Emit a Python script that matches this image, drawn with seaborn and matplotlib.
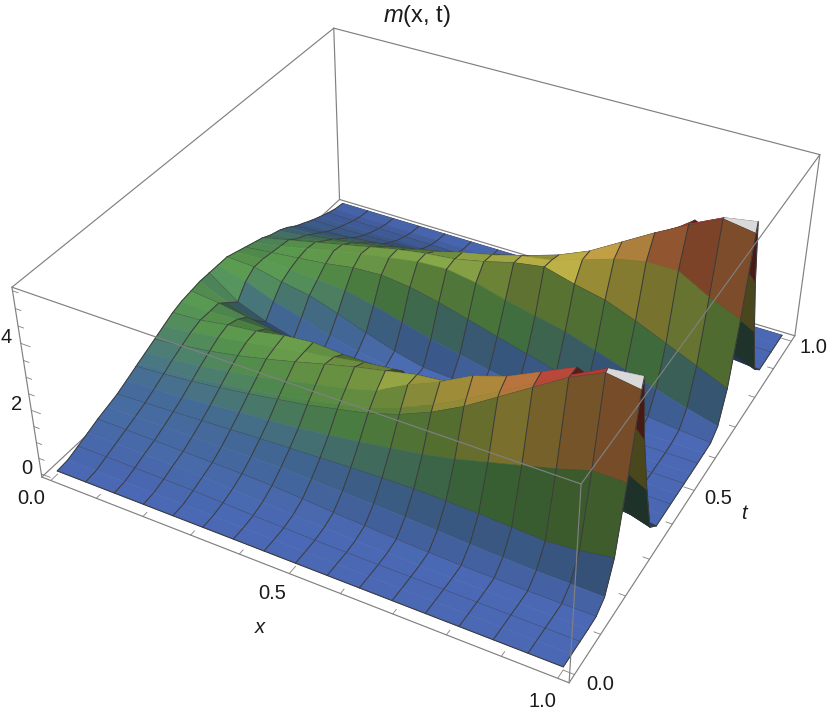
import numpy as np
import seaborn as sns
import matplotlib
matplotlib.use("Agg")
import matplotlib.pyplot as plt
from mpl_toolkits.mplot3d import proj3d

sns.set_theme(style="white")
plt.rcParams['font.family'] = ['Liberation Sans', 'DejaVu Sans']
plt.rcParams['mathtext.fontset'] = 'custom'
plt.rcParams['mathtext.it'] = 'Liberation Sans:italic'
plt.rcParams['mathtext.rm'] = 'Liberation Sans'

# --- values ---

x_nodes = [0, .0625, .125, .1875, .25, .3125, .375, .4375, .5, .5625, .625, .6875, .75, .8125, .875, .9375, 1]
t_nodes = [0, .03125, .0625, .09375, .125, .15625, .1875, .21875, .25, .2575, .28125, .3125, .34375, .375, .40625,
           .4375, .46875, .5, .53125, .5625, .59375, .625, .65625, .6875, .71875, .75, .755, .78125, .8125, .84375,
           .875, .90625, .9375, .96875, 1]
mesh_rows = [0, .0625, .125, .1875, .25, .3125, .375, .4375, .5, .5625, .625, .6875, .75, .8125, .875, .9375, 1]
x_ticks = [0, .1, .2, .3, .4, .5, .6, .7, .8, .9, 1]
t_ticks = [0, .1, .2, .3, .4, .5, .6, .7, .8, .9, 1]
z_ticks = [0, .5, 1, 1.5, 2, 2.5, 3, 3.5, 4, 4.5, 5, 5.5]
x_labels = {0: '0.0', .5: '0.5', 1: '1.0'}
t_labels = {0: '0.0', .5: '0.5', 1: '1.0'}
z_labels = {0: '0', 2: '2', 4: '4'}

# one row per t node, one column per x node
m_rows = [
    [0, 0, 0, 0, 0, 0, 0, 0, 0, 0, 0, 0, 0, 0, 0, 0, 0],
    [.03, .03, .03, .03, .02, .02, .01, .01, 0, 0, 0, 0, 0, 0, 0, 0, 0],
    [.15, .15, .14, .13, .12, .09, .05, .03, .01, 0, 0, 0, 0, 0, 0, 0, 0],
    [.27, .27, .27, .26, .24, .2, .15, .11, .07, .04, .02, .01, 0, 0, 0, 0, 0],
    [.4, .39, .38, .37, .36, .35, .33, .27, .2, .15, .1, .06, .03, .02, .01, .01, .02],
    [.5, .51, .52, .54, .55, .57, .58, .56, .52, .49, .45, .4, .35, .31, .28, .27, .25],
    [.6, .64, .68, .73, .78, .83, .87, .91, .95, .98, 1.0, .98, .95, .9, .85, .93, 1.1],
    [.75, .8, .85, .94, 1.03, 1.11, 1.2, 1.32, 1.45, 1.6, 1.75, 1.95, 2.2, 2.45, 2.7, 3.0, 3.0],
    [.9, .97, 1.05, 1.17, 1.3, 1.45, 1.6, 1.8, 2.0, 2.3, 2.7, 3.2, 3.8, 4.4, 5.0, 5.45, 5.3],
    [.94, 1.01, 1.1, 1.23, 1.36, 1.52, 1.69, 1.89, 2.1, 2.45, 2.85, 3.35, 3.9, 4.45, 5.0, 5.5, 5.6],
    [1.05, 1.15, 1.25, 1.4, 1.55, 1.75, 1.95, 2.15, 2.4, 2.9, 3.3, 3.8, 4.1, 4.55, 5.0, 4.6, 3.6],
    [1.2, 1.3, 1.43, 1.6, 1.8, 2.03, 2.27, 2.5, 2.7, 2.9, 3.0, 3.0, 3.0, 2.9, 2.7, 2.3, 1.8],
    [1.35, 1.45, 1.6, 1.75, 1.9, 2.05, 2.2, 2.35, 2.45, 2.25, 2.0, 1.75, 1.5, 1.2, .9, .6, .3],
    [1.5, 1.55, 1.7, 1.8, 1.97, 2.06, 2.0, 2.0, 2.1, 1.5, 1.1, .8, .6, .4, .25, .1, 0],
    [1.6, 1.55, 1.6, 1.6, 1.6, 1.5, 1.3, 1.1, .9, .7, .5, .4, .3, .2, .1, .05, 0],
    [1.65, 1.55, 1.4, 1.25, 1.1, .9, .7, .5, .4, .3, .2, .15, .1, .07, .05, .02, 0],
    [1.7, 1.3, 1.0, .75, .55, .4, .3, .2, .15, .1, .08, .05, .03, .02, .01, 0, 0],
    [1.7, 1.05, .7, .45, .25, .15, .1, .08, .05, .03, .02, 0, 0, 0, 0, 0, 0],
    [1.7, 1.45, 1.1, .85, .55, .35, .2, .1, .08, .05, .03, .01, 0, 0, 0, 0, 0],
    [1.7, 1.65, 1.45, 1.3, 1.0, .67, .37, .15, .1, .07, .04, .02, .01, 0, 0, 0, 0],
    [1.6, 1.65, 1.6, 1.55, 1.5, 1.3, 1.05, .8, .6, .4, .25, .15, .1, .05, .03, .02, .01],
    [1.5, 1.6, 1.7, 1.8, 1.95, 2.0, 1.9, 1.7, 1.45, 1.2, .95, .7, .45, .3, .2, .1, .02],
    [1.4, 1.55, 1.75, 1.95, 2.15, 2.3, 2.45, 2.5, 2.35, 2.1, 1.9, 1.7, 1.4, 1.1, .8, .5, .25],
    [1.3, 1.5, 1.7, 1.9, 2.1, 2.3, 2.45, 2.55, 2.75, 3.0, 3.15, 2.9, 2.7, 2.35, 1.95, 1.55, 1.15],
    [1.15, 1.3, 1.5, 1.7, 1.85, 2.05, 2.25, 2.5, 2.7, 2.95, 3.1, 3.4, 3.7, 3.9, 3.9, 3.4, 3.0],
    [1.05, 1.15, 1.3, 1.45, 1.6, 1.8, 2.0, 2.2, 2.45, 2.7, 3.0, 3.4, 3.95, 4.5, 5.0, 5.45, 5.3],
    [1.03, 1.12, 1.26, 1.41, 1.56, 1.75, 1.95, 2.15, 2.4, 2.65, 2.95, 3.35, 3.87, 4.45, 5.0, 5.45, 5.6],
    [.9, .95, 1.05, 1.2, 1.35, 1.5, 1.7, 1.9, 2.1, 2.35, 2.6, 3.0, 3.5, 4.2, 4.9, 4.6, 3.6],
    [.7, .75, .85, .95, 1.05, 1.15, 1.3, 1.4, 1.55, 1.7, 1.9, 2.1, 2.4, 2.6, 2.7, 2.3, 1.8],
    [.55, .55, .6, .65, .75, .8, .9, .95, 1.0, 1.1, 1.15, 1.25, 1.3, 1.3, 1.1, .7, .3],
    [.4, .4, .42, .45, .48, .5, .55, .55, .55, .55, .55, .5, .45, .35, .25, .1, 0],
    [.27, .27, .27, .27, .27, .27, .27, .25, .25, .22, .2, .15, .1, .07, .04, .02, 0],
    [.15, .15, .15, .14, .13, .12, .1, .09, .08, .06, .05, .03, .02, .01, 0, 0, 0],
    [.05, .05, .05, .04, .04, .03, .02, .02, .02, .01, .01, 0, 0, 0, 0, 0, 0],
    [0, 0, 0, 0, 0, 0, 0, 0, 0, 0, 0, 0, 0, 0, 0, 0, 0],
]

# --- figure and camera ---

fig = plt.figure(figsize=(8.3, 7.11), dpi=100)
ax = fig.add_subplot(projection="3d")
ax.view_init(elev=36.081, azim=-61.72, roll=-0.09)
ax.set_proj_type("persp", focal_length=0.4352)
ax.set_box_aspect((2.5014, 2.5087, 1))
ax.set_position([15.72 / 830, -23.18 / 711, 819.16 / 830, 819.16 / 711])

X, T = np.meshgrid(x_nodes, t_nodes)
M = np.array(m_rows)
z_low, z_top = -0.1, 5.6
x_lim = (-.02, 1.02)
t_lim = (-.02, 1.02)
ax.set_xlim(*x_lim); ax.set_ylim(*t_lim); ax.set_zlim(z_low, z_top)
ax.set_axis_off()
ax.computed_zorder = False

# --- height colours with a simple slope shading ---

cmap = sns.blend_palette(['#4a68b4', '#47709e', '#58984f', '#7fa648', '#cfbd4a', '#d09a48', '#c84a3e', '#b83a3a'],
                         as_cmap=True)
dt = np.diff(t_nodes)[:, None]
z_mid = (M[:-1, :-1] + M[1:, :-1] + M[:-1, 1:] + M[1:, 1:]) / 4
d_x = ((M[:-1, 1:] - M[:-1, :-1]) + (M[1:, 1:] - M[1:, :-1])) / 2 / (z_top - z_low) / (2.5 / 16)
d_t = ((M[1:, :-1] - M[:-1, :-1]) + (M[1:, 1:] - M[:-1, 1:])) / 2 / (z_top - z_low) / (2.5 * dt)
n_z = 1 / np.sqrt(1 + d_x**2 + d_t**2)
shade = (0.46 + 0.54 * n_z) * (1 + 0.25 * np.clip(-d_x, 0, 1)) * (1 - 0.45 * np.clip(-d_t, 0, 1))
colors = cmap(z_mid / z_top)
colors[..., :3] = np.clip(colors[..., :3] * shade[..., None], 0, 1)
cap = (M[1:, :-1] >= 5.45) & (M[1:, 1:] >= 5.45)
colors[cap] = (0.85, 0.85, 0.85, 1)

# --- surface: far strips first, so nearer ridges hide what lies behind them ---

line_col = '#3c3c3c'
z_order = 10
for k in range(len(t_nodes) - 2, -1, -1):
    ax.plot_surface(X[k:k+2], T[k:k+2], M[k:k+2], facecolors=colors[k:k+1], rstride=1, cstride=1,
                    shade=False, linewidth=0.4, zorder=z_order)
    z_order += 1
    xs, ts, zs = [], [], []
    for j in range(len(x_nodes)):
        xs += [x_nodes[j], x_nodes[j], np.nan]
        ts += [t_nodes[k], t_nodes[k+1], np.nan]
        zs += [M[k, j], M[k+1, j], np.nan]
    ax.plot(xs, ts, zs, color=line_col, lw=0.75, zorder=z_order, clip_on=False)
    z_order += 1
    if t_nodes[k] in mesh_rows:
        ax.plot(x_nodes, [t_nodes[k]] * len(x_nodes), M[k], color=line_col, lw=0.8, zorder=z_order, clip_on=False)
        z_order += 1
ax.plot(x_nodes, [1] * len(x_nodes), M[-1], color=line_col, lw=0.75, zorder=9)

# --- box ---

box_col = '#808080'
xa, xb = x_lim
ta, tb = t_lim
back = [((xa, ta, z_top), (xa, tb, z_top)), ((xa, tb, z_top), (xb, tb, z_top)), ((xa, tb, z_low), (xa, tb, z_top)),
        ((xa, ta, z_low), (xa, tb, z_low)), ((xa, tb, z_low), (xb, tb, z_low)), ((xb, tb, z_low), (xb, tb, z_top)),
        ((xa, ta, z_low), (xa, ta, z_top)), ((xa, ta, z_low), (xb, ta, z_low)), ((xb, ta, z_low), (xb, tb, z_low))]
front = [((xa, ta, z_top), (xb, ta, z_top)), ((xb, ta, z_top), (xb, tb, z_top)), ((xb, ta, z_low), (xb, ta, z_top))]
for a, b in back:
    ax.plot(*zip(a, b), color=box_col, lw=0.85, zorder=1, clip_on=False)
for a, b in front:
    ax.plot(*zip(a, b), color=box_col, lw=0.85, zorder=5000, clip_on=False)

for v in x_ticks:
    ln = .02 if v in x_labels else .012
    ax.plot([v, v], [ta, ta + ln], [z_low, z_low], color=box_col, lw=0.6, zorder=2, clip_on=False)
for v in t_ticks:
    ln = .02 if v in t_labels else .012
    ax.plot([xb, xb - ln], [v, v], [z_low, z_low], color=box_col, lw=0.6, zorder=2, clip_on=False)
for v in z_ticks:
    ln = .02 if v in z_labels else .012
    ax.plot([xa, xa + ln], [ta, ta], [v, v], color=box_col, lw=0.6, zorder=2, clip_on=False)


# --- text, placed at the projected position of a 3D point ---

def label(x, t, z, s, **kw):
    px, py, _ = proj3d.proj_transform(x, t, z, ax.get_proj())
    ax.text2D(px, py, s, fontsize=14.5, ha='center', va='center', color='#1a1a1a', zorder=6000, **kw)


for v, s in x_labels.items():
    label(v, -.075, z_low, s)
for v, s in t_labels.items():
    label(1.065, v, z_low, s)
for v, s in z_labels.items():
    label(-.052, -.02, v, s)
label(.525, -.15, z_low, 'x', style='italic')
label(1.12, .485, z_low, 't', style='italic')
fig.text(417 / 830, 1 - 16 / 711, r'$\mathit{m}$(x, t)', fontsize=17, ha='center', va='center', color='#1a1a1a')

fig.savefig("out.png", dpi=100)
